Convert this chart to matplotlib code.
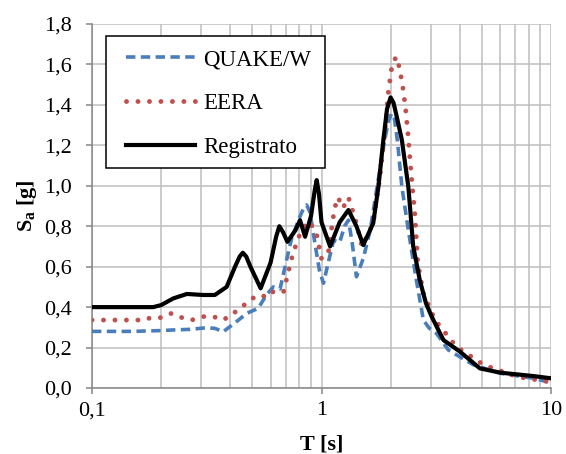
import matplotlib
matplotlib.use('Agg')
import matplotlib.pyplot as plt
from matplotlib.patches import Rectangle
from matplotlib.ticker import FuncFormatter, FixedLocator, LogLocator, NullFormatter

# Spectral acceleration readings, T in s, Sa in g
t_quake = [0.10, 0.15, 0.20, 0.226, 0.267, 0.316, 0.343, 0.373, 0.426, 0.472,
           0.53, 0.575, 0.617, 0.66, 0.70, 0.741, 0.80, 0.84, 0.862, 0.89,
           0.936, 0.98, 1.02, 1.07, 1.13, 1.20, 1.26, 1.31, 1.36, 1.42,
           1.52, 1.63, 1.75, 1.88, 1.96, 2.02, 2.08, 2.14, 2.24, 2.39,
           2.59, 2.78, 2.95, 3.17, 3.57, 4.60, 6.00, 8.40, 10.0]
sa_quake = [0.28, 0.28, 0.284, 0.287, 0.29, 0.298, 0.295, 0.278, 0.328, 0.369,
            0.394, 0.46, 0.50, 0.49, 0.62, 0.74, 0.84, 0.895, 0.905, 0.87,
            0.716, 0.58, 0.518, 0.62, 0.73, 0.72, 0.80, 0.83, 0.72, 0.55,
            0.64, 0.78, 1.0, 1.22, 1.32, 1.358, 1.33, 1.226, 0.995, 0.78,
            0.534, 0.336, 0.295, 0.27, 0.188, 0.114, 0.073, 0.048, 0.026]

t_eera = [0.10, 0.17, 0.18, 0.20, 0.222, 0.243, 0.272, 0.303, 0.338, 0.373,
          0.413, 0.449, 0.488, 0.53, 0.585, 0.62, 0.683, 0.741, 0.79, 0.862,
          0.89, 0.953, 1.0, 1.07, 1.11, 1.14, 1.18, 1.24, 1.31, 1.42,
          1.50, 1.68, 1.80, 1.90, 1.96, 2.02, 2.11, 2.17, 2.25, 2.32,
          2.38, 2.46, 2.55, 2.63, 2.78, 3.12, 3.57, 3.87, 5.10, 7.10,
          9.80, 10.0]
sa_eera = [0.336, 0.336, 0.348, 0.348, 0.369, 0.35, 0.336, 0.353, 0.353, 0.336,
           0.369, 0.40, 0.435, 0.46, 0.45, 0.48, 0.476, 0.64, 0.74, 0.82,
           0.82, 0.757, 0.64, 0.666, 0.80, 0.888, 0.943, 0.89, 0.943, 0.815,
           0.70, 0.815, 1.05, 1.30, 1.474, 1.58, 1.638, 1.597, 1.507, 1.391,
           1.26, 1.06, 0.864, 0.617, 0.468, 0.336, 0.254, 0.204, 0.114, 0.056,
           0.031, 0.03]

t_reg = [0.10, 0.15, 0.185, 0.20, 0.226, 0.259, 0.305, 0.343, 0.386, 0.42,
         0.44, 0.454, 0.47, 0.49, 0.543, 0.60, 0.635, 0.655, 0.68, 0.71,
         0.77, 0.806, 0.848, 0.90, 0.935, 0.953, 0.975, 1.00, 1.09, 1.20,
         1.31, 1.42, 1.52, 1.68, 1.77, 1.86, 1.93, 2.00, 2.06, 2.12,
         2.24, 2.39, 2.51, 2.68, 2.85, 3.02, 3.40, 4.01, 4.90, 6.00,
         8.38, 10.0]
sa_reg = [0.40, 0.40, 0.40, 0.41, 0.443, 0.465, 0.46, 0.46, 0.50, 0.60,
          0.65, 0.669, 0.65, 0.60, 0.493, 0.62, 0.75, 0.80, 0.77, 0.723,
          0.78, 0.83, 0.748, 0.85, 0.98, 1.028, 0.96, 0.82, 0.70, 0.82,
          0.88, 0.80, 0.707, 0.815, 0.995, 1.226, 1.38, 1.437, 1.41, 1.35,
          1.226, 0.995, 0.70, 0.534, 0.42, 0.353, 0.237, 0.18, 0.097, 0.076,
          0.059, 0.048]

labels = ['QUAKE/W', 'EERA', 'Registrato']
y_ticks = [0.0, 0.2, 0.4, 0.6, 0.8, 1.0, 1.2, 1.4, 1.6, 1.8]
x_ticks = [0.1, 1, 10]
x_ticklabels = ['0,1', '1', '10']

plt.rcParams['font.family'] = ['Liberation Serif', 'DejaVu Serif']
plt.rcParams['mathtext.fontset'] = 'custom'
plt.rcParams['mathtext.rm'] = 'Liberation Serif'
plt.rcParams['mathtext.bf'] = 'Liberation Serif:bold'

fig = plt.figure(figsize=(5.66, 4.54), dpi=100)
ax = fig.add_axes([92 / 566, 1 - 388 / 454, 459 / 566, 364 / 454])

ax.plot(t_quake, sa_quake, color='#4a7ebb', lw=2.6, dashes=(2.6, 1.5),
        label=labels[0], zorder=3)
ax.plot(t_eera, sa_eera, color='#c0504d', lw=3.5, dashes=(0.01, 2.35),
        dash_capstyle='round', label=labels[1], zorder=3)
ax.plot(t_reg, sa_reg, color='black', lw=3.0, label=labels[2], zorder=4)

ax.set_xscale('log')
ax.set_xlim(0.1, 10)
ax.set_ylim(0, 1.8)

ax.xaxis.set_major_locator(FixedLocator(x_ticks))
ax.xaxis.set_major_formatter(FuncFormatter(lambda v, p: x_ticklabels[x_ticks.index(round(v, 3))] if round(v, 3) in x_ticks else ''))
ax.xaxis.set_minor_locator(LogLocator(base=10, subs=range(2, 10)))
ax.xaxis.set_minor_formatter(NullFormatter())
ax.set_yticks(y_ticks)
ax.yaxis.set_major_formatter(FuncFormatter(lambda v, p: f'{v:.1f}'.replace('.', ',')))

ax.grid(True, which='major', axis='both', color='#bfbfbf', lw=1.1, zorder=0)
ax.grid(True, which='minor', axis='x', color='#bfbfbf', lw=1.1, zorder=0)
ax.set_axisbelow(True)

for s in ['top', 'right']:
    ax.spines[s].set_visible(False)
for s in ['left', 'bottom']:
    ax.spines[s].set_color('#868686')
    ax.spines[s].set_linewidth(1.1)

ax.tick_params(axis='both', which='major', direction='out', length=4.5,
               width=1.1, color='#868686', labelsize=16)
ax.tick_params(axis='y', pad=10)
ax.tick_params(axis='x', pad=5)
ax.tick_params(axis='x', which='minor', length=0)

ax.set_xlabel('T [s]', fontsize=16, fontweight='bold', labelpad=10)
ax.set_ylabel(r'$\mathbf{S_a}$ [g]', fontsize=16, fontweight='bold', labelpad=4)

# legend frame drawn by hand so the padding can be wider left/right than top/bottom
frame = Rectangle((14 / 459, 220 / 364), 219 / 459, 132 / 364, transform=ax.transAxes,
                  facecolor='white', edgecolor='black', lw=1.1, zorder=5)
ax.add_patch(frame)
leg = ax.legend(loc='upper left', bbox_to_anchor=(24 / 459, 0.959), borderaxespad=0,
                fontsize=16.5, handlelength=3.0, handletextpad=0.35,
                labelspacing=1.0, borderpad=0.45, frameon=False)
leg.set_zorder(6)

fig.savefig('out.png', dpi=100)
